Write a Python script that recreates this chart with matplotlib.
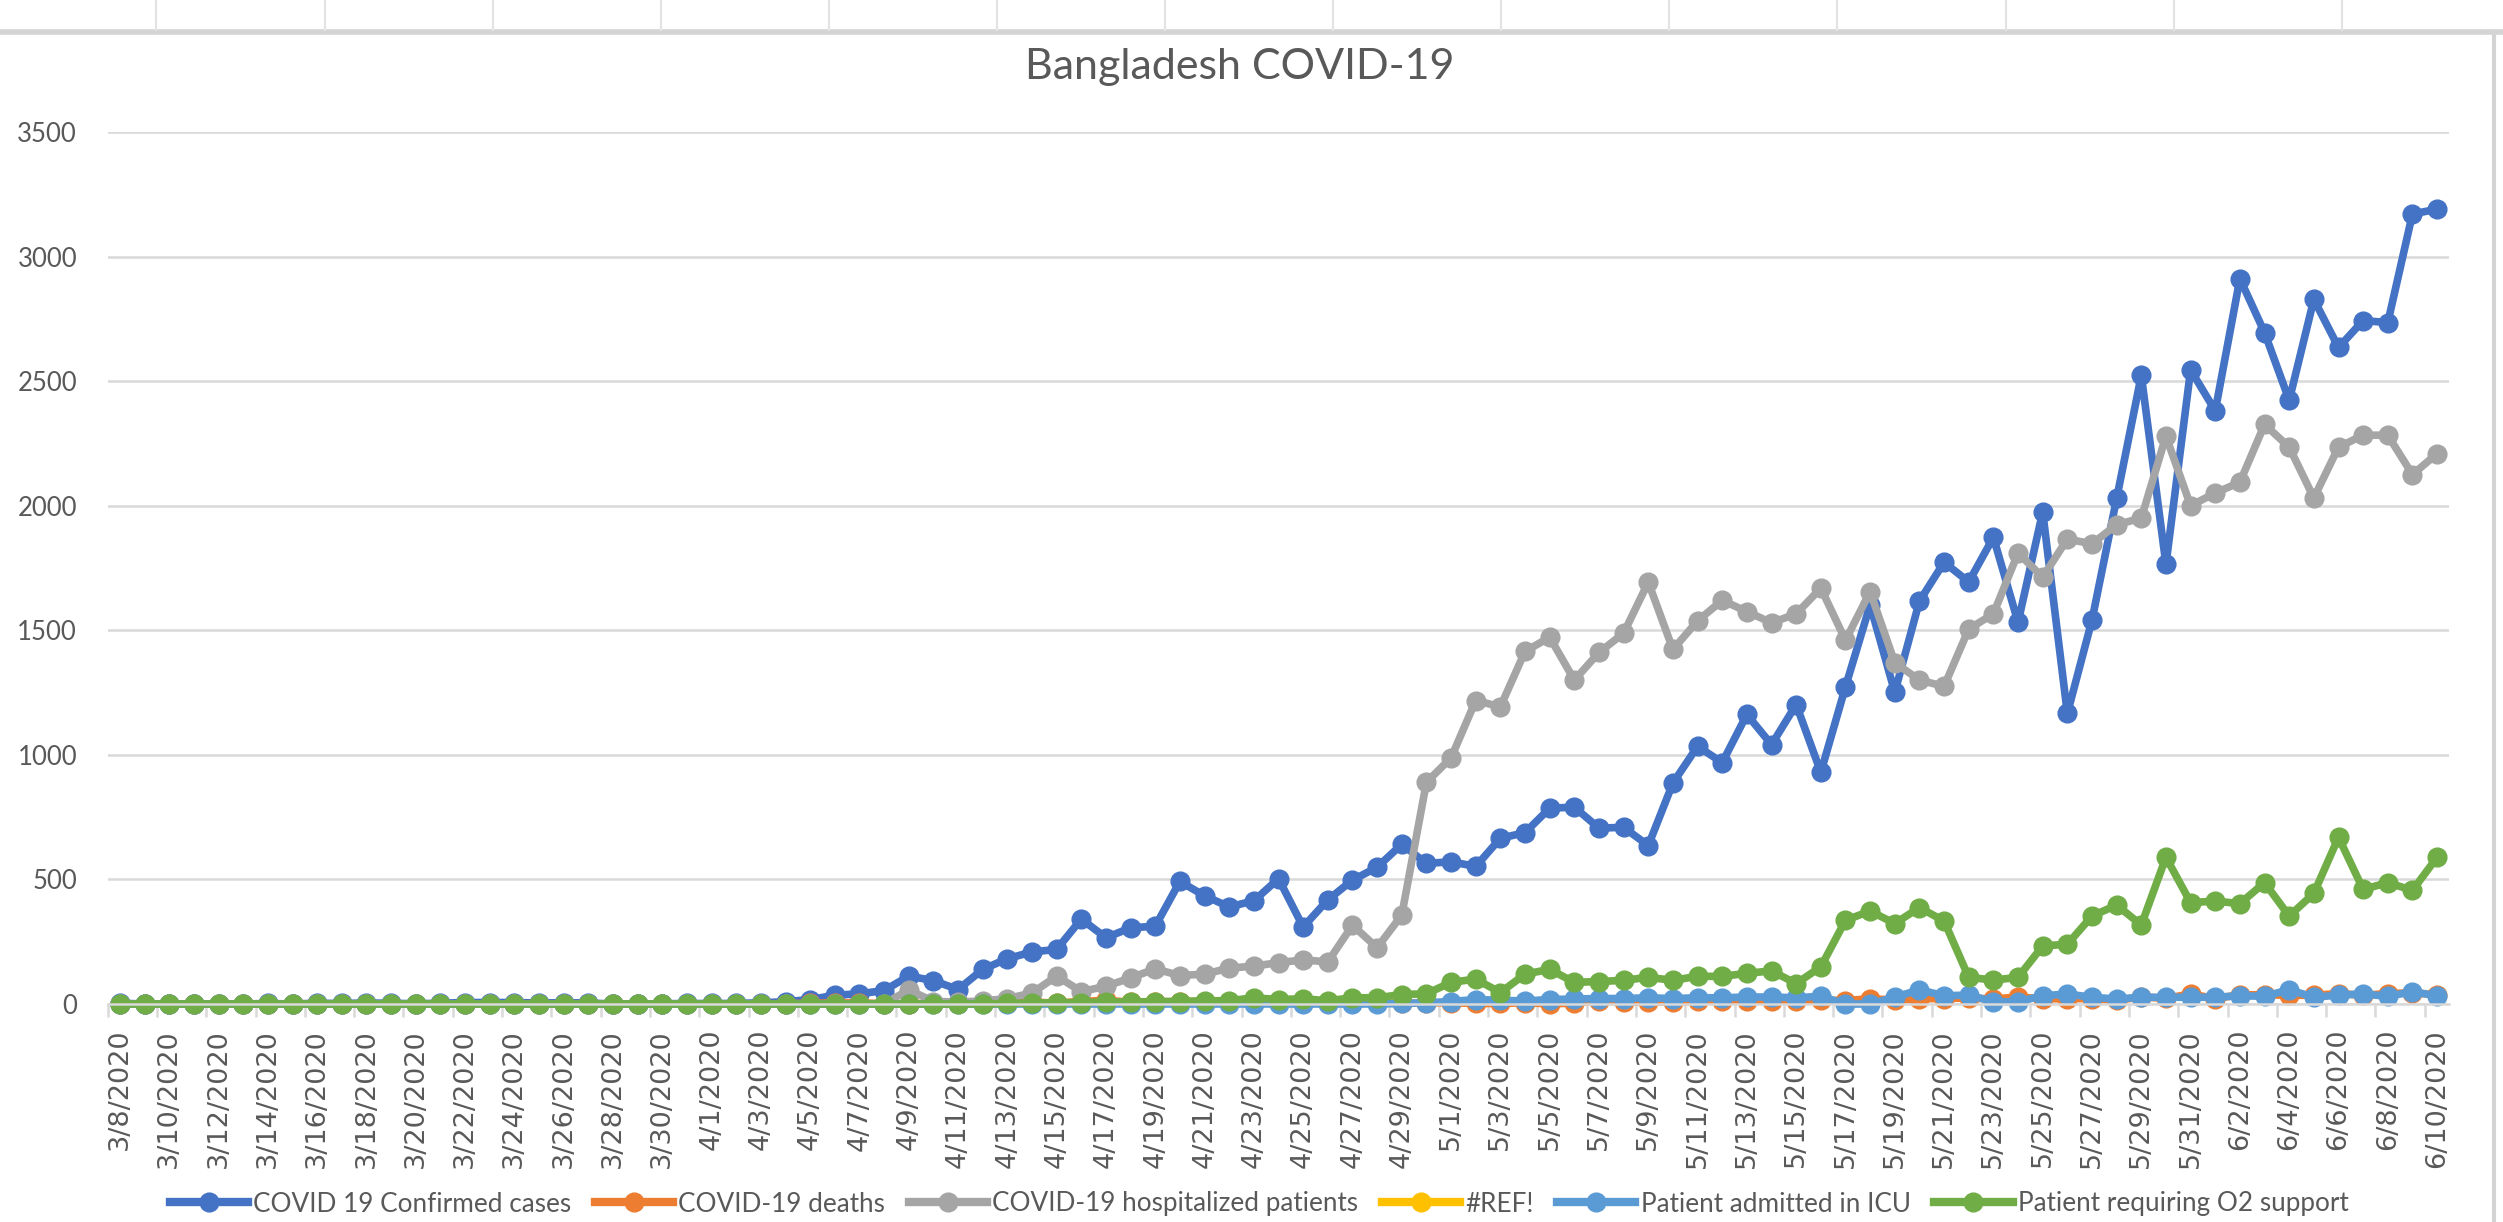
import numpy as np
import pandas as pd
import matplotlib
matplotlib.use("Agg")
import matplotlib.pyplot as plt
from matplotlib.lines import Line2D

plt.rcParams['font.family'] = ['Lato', 'DejaVu Sans']

# data, one value per day from 3/8/2020 to 6/10/2020
dates = pd.date_range("2020-03-08", "2020-06-10", freq="D")
date_labels = [f"{d.month}/{d.day}/{d.year}" for d in dates]

confirmed = ([3, 0, 0, 0, 0, 0, 2, 0, 3, 2, 4, 3, 1, 3, 6, 6, 6, 4, 5, 4, 0, 0, 1, 2]
             + [2, 2, 5, 9, 18, 35, 41, 54, 112, 94, 58, 139, 182, 209, 219, 341, 266, 306, 312, 492,
                434, 390, 414, 503, 309, 418, 497, 549, 641, 564]
             + [571, 552, 665, 688, 786, 790, 706, 709, 636, 887, 1034, 969, 1162, 1041, 1202, 930,
                1273, 1602, 1251, 1617, 1773, 1694, 1873, 1532, 1975, 1166, 1541, 2029, 2523, 1764, 2545]
             + [2381, 2911, 2695, 2423, 2828, 2635, 2743, 2735, 3171, 3190])

deaths = ([0] * 10 + [1, 0, 0, 1, 0, 0, 1, 1, 0, 0, 0, 0, 0, 0]
          + [1, 0, 1, 1, 3, 4, 5, 1, 1, 3, 3, 4, 4, 7, 4, 10, 15, 7, 9, 10, 10, 9, 7, 4, 5, 3, 7, 5, 2, 5]
          + [5, 2, 2, 5, 1, 3, 13, 7, 8, 8, 11, 11, 11, 14, 11, 15, 14, 21, 16, 21, 22, 24, 20, 28, 21,
             21, 22, 15, 28, 23, 40]
          + [22, 37, 37, 35, 35, 42, 35, 42, 45, 37])

hospitalized = ([0] * 24
                + [0, 0, 0, 0, 0, 0, 0, 0, 57, 10, 8, 12, 22, 44, 112, 50, 71, 105, 141, 114,
                   120, 144, 152, 166, 177, 169, 316, 226, 357, 890]
                + [988, 1218, 1193, 1415, 1472, 1300, 1411, 1488, 1693, 1423, 1538, 1620, 1575, 1530,
                   1566, 1669, 1460, 1655, 1370, 1300, 1275, 1505, 1566, 1810, 1713, 1866, 1847, 1924,
                   1950, 2279, 2000]
                + [2051, 2094, 2326, 2235, 2031, 2235, 2283, 2283, 2125, 2209])

ref_err = []  # the #REF! series has no values

icu = ([0] * 24
       + [0] * 20 + [0, 0, 0, 0, 0, 0, 0, 0, 2, 5]
       + [10, 18, 15, 12, 18, 20, 22, 22, 25, 22, 25, 25, 28, 28, 25, 31, 0, 0, 27, 57,
          33, 36, 9, 9, 33, 40, 27, 20, 27, 27, 27]
       + [27, 33, 31, 57, 27, 36, 40, 31, 49, 33])

oxygen = ([0] * 24
          + [0, 0, 0, 0, 0, 0, 0, 0, 0, 0, 0, 0, 2, 4, 5, 6, 8, 8, 10, 10,
             13, 13, 25, 18, 21, 13, 25, 25, 38, 41]
          + [87, 100, 46, 120, 139, 87, 90, 95, 107, 95, 111, 111, 123, 133, 82, 149, 336, 373,
             323, 387, 333, 107, 96, 107, 233, 240, 353, 397, 317, 589, 407]
          + [413, 403, 487, 353, 444, 669, 460, 487, 456, 589])

series = [
    ("COVID 19 Confirmed cases", confirmed, "#4472C4"),
    ("COVID-19 deaths", deaths, "#ED7D31"),
    ("COVID-19 hospitalized patients", hospitalized, "#A5A5A5"),
    ("#REF!", ref_err, "#FFC000"),
    ("Patient admitted in ICU", icu, "#5B9BD5"),
    ("Patient requiring O2 support", oxygen, "#70AD47"),
]

text_col = "#595959"
grid_col = "#D9D9D9"

fig = plt.figure(figsize=(25.03, 12.22), dpi=100)
ax = fig.add_axes([0.043, 0.1784, 0.9356, 0.7136])

x = np.arange(len(dates))
handles = []
for name, vals, col in series:
    ax.plot(x[:len(vals)], vals, color=col, lw=5.5, marker="o", ms=13.5,
            clip_on=False, solid_joinstyle="round")
    handles.append(Line2D([], [], color=col, lw=6, marker="o", ms=13.5, label=name))

ax.set_xlim(-0.5, len(dates) - 0.5)
ax.set_ylim(0, 3500)
ax.set_yticks(range(0, 3501, 500))
ax.grid(axis="y", color=grid_col, lw=1.8)
ax.set_axisbelow(True)
for s in ["left", "right", "top"]:
    ax.spines[s].set_visible(False)
ax.spines["bottom"].set_color(grid_col)
ax.spines["bottom"].set_linewidth(1.8)

ax.set_xticks(x[::2])
ax.set_xticklabels(date_labels[::2], rotation=90, fontsize=19.5, color=text_col,
                   family="DejaVu Sans")
ax.set_xticks(np.arange(-0.5, len(dates), 2), minor=True)
ax.tick_params(axis="x", which="major", length=0, pad=18)
ax.tick_params(axis="x", which="minor", length=9, width=1.8, color=grid_col)
ax.tick_params(axis="y", length=0, pad=22, labelsize=18.5, labelcolor=text_col)

fig.text(1240 / 2503, 1 - 67 / 1222, "Bangladesh COVID-19", ha="center", va="center",
         fontsize=31, color=text_col)

fig.legend(handles=handles, loc="center", bbox_to_anchor=(0.503, 1 - 1204 / 1222), ncol=6,
           frameon=False, fontsize=18.8, handlelength=3.0, handletextpad=0.2,
           columnspacing=0.9, labelcolor=text_col)

# spreadsheet frame around the chart
fig.add_artist(Line2D([0, 1], [1 - 32 / 1222, 1 - 32 / 1222], color="#D4D4D4", lw=4))
for cx in np.arange(156.4, 2503, 168.1):
    fig.add_artist(Line2D([cx / 2503, cx / 2503], [1 - 30 / 1222, 1], color="#E3E3E3", lw=1.5))
fig.add_artist(Line2D([2494 / 2503, 2494 / 2503], [0, 1 - 32 / 1222], color="#D4D4D4", lw=3))

fig.savefig("out.png", dpi=100, facecolor="white")
